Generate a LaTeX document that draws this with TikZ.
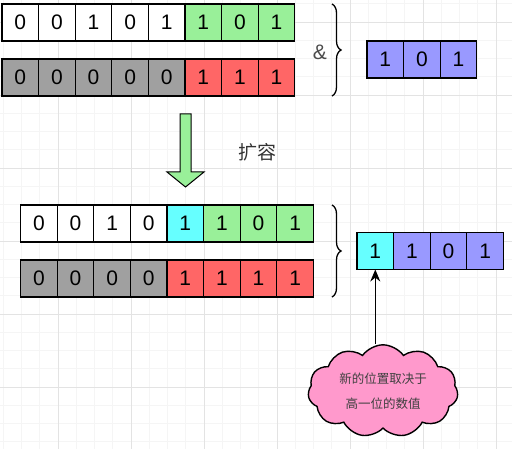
\documentclass[tikz,border=0pt]{standalone}
\usepackage{fontspec}
\setmainfont{Liberation Sans}
\newfontfamily\cjk{Noto Sans CJK SC}
\usetikzlibrary{shapes.symbols, decorations.pathreplacing, arrows.meta}

\definecolor{bitgreen}{RGB}{153,240,153}
\definecolor{bitred}{RGB}{255,102,102}
\definecolor{bitgray}{RGB}{160,160,160}
\definecolor{bitblue}{RGB}{153,153,255}
\definecolor{bitcyan}{RGB}{102,255,255}
\definecolor{cloudpink}{RGB}{255,153,204}

\tikzset{
	bitcell/.style={draw, line width=1.2pt, minimum width=36.6pt, minimum height=37pt,
		inner sep=0pt, outer sep=0pt, font=\fontsize{21}{21}\selectfont},
	minorline/.style={gray!8, line width=0.6pt},
	majorline/.style={gray!22, line width=0.9pt},
	bitbrace/.style={decorate, decoration={brace, amplitude=9pt}, line width=1.3pt},
}

\begin{document}
\begin{tikzpicture}[x=1pt, y=-1pt]
	\useasboundingbox [fill=white] (0,0) rectangle (512,449);

	% background grid
	\foreach \k in {0,...,28} {
		\draw [minorline] ({3.25+18.25*\k},0) -- ({3.25+18.25*\k},449);
		\draw [minorline] (0,{3.75+18.25*\k}) -- (512,{3.75+18.25*\k});
	}
	\foreach \k in {0,...,7} {
		\draw [majorline] ({-15+73*\k},0) -- ({-15+73*\k},449);
		\draw [majorline] (0,{22+73*\k}) -- (512,{22+73*\k});
	}

	% before resize
	\foreach \v/\c [count=\i] in {0/white,0/white,1/white,0/white,1/white,1/bitgreen,0/bitgreen,1/bitgreen}
		\node [bitcell, fill=\c] (a\i) at ({20.3+36.6*(\i-1)},22.5) {\v};
	\foreach \v/\c [count=\i] in {0/bitgray,0/bitgray,0/bitgray,0/bitgray,0/bitgray,1/bitred,1/bitred,1/bitred}
		\node [bitcell, fill=\c] (b\i) at ({20.3+36.6*(\i-1)},77.5) {\v};

	\coordinate (braceAtop) at (332,4);
	\coordinate (braceAbot) at (332,96);
	\draw [bitbrace] (braceAtop) -- (braceAbot);
	\node [font=\fontsize{21}{21}\selectfont, text=black!70] (amp) at (320,52) {\&};

	\foreach \v [count=\i] in {1,0,1}
		\node [bitcell, fill=bitblue] (r\i) at ({385.3+36.6*(\i-1)},59.5) {\v};

	% resize arrow
	\draw [fill=bitgreen, line width=1pt] (180,114) -- (191,114) -- (191,172) -- (204,172)
		-- (185.5,187) -- (167,172) -- (180,172) -- cycle;
	\node [font=\cjk\fontsize{19}{19}\selectfont, text=black!80] (resize) at (257,152) {扩容};

	% after resize
	\foreach \v/\c [count=\i] in {0/white,0/white,1/white,0/white,1/bitcyan,1/bitgreen,0/bitgreen,1/bitgreen}
		\node [bitcell, fill=\c] (c\i) at ({38.9+36.6*(\i-1)},223.5) {\v};
	\foreach \v/\c [count=\i] in {0/bitgray,0/bitgray,0/bitgray,0/bitgray,1/bitred,1/bitred,1/bitred,1/bitred}
		\node [bitcell, fill=\c] (d\i) at ({38.9+36.6*(\i-1)},278.5) {\v};

	\coordinate (braceBtop) at (332,205);
	\coordinate (braceBbot) at (332,297);
	\draw [bitbrace] (braceBtop) -- (braceBbot);

	\foreach \v/\c [count=\i] in {1/bitcyan,1/bitblue,0/bitblue,1/bitblue}
		\node [bitcell, fill=\c] (s\i) at ({375.3+36.6*(\i-1)},251) {\v};

	% note
	\node [cloud, cloud puffs=11, cloud puff arc=110, aspect=1.6, draw, line width=1.4pt,
		fill=cloudpink, minimum width=150pt, minimum height=92pt, inner sep=0pt,
		align=center, text=black!75, font=\cjk\fontsize{12.5}{25}\selectfont] (note) at (383,391)
		{新的位置取决于\\高一位的数值};
	\draw [-{Stealth[length=12pt, width=10pt]}, line width=1.3pt] (s1.south |- note.north) -- (s1.south);
\end{tikzpicture}
\end{document}
